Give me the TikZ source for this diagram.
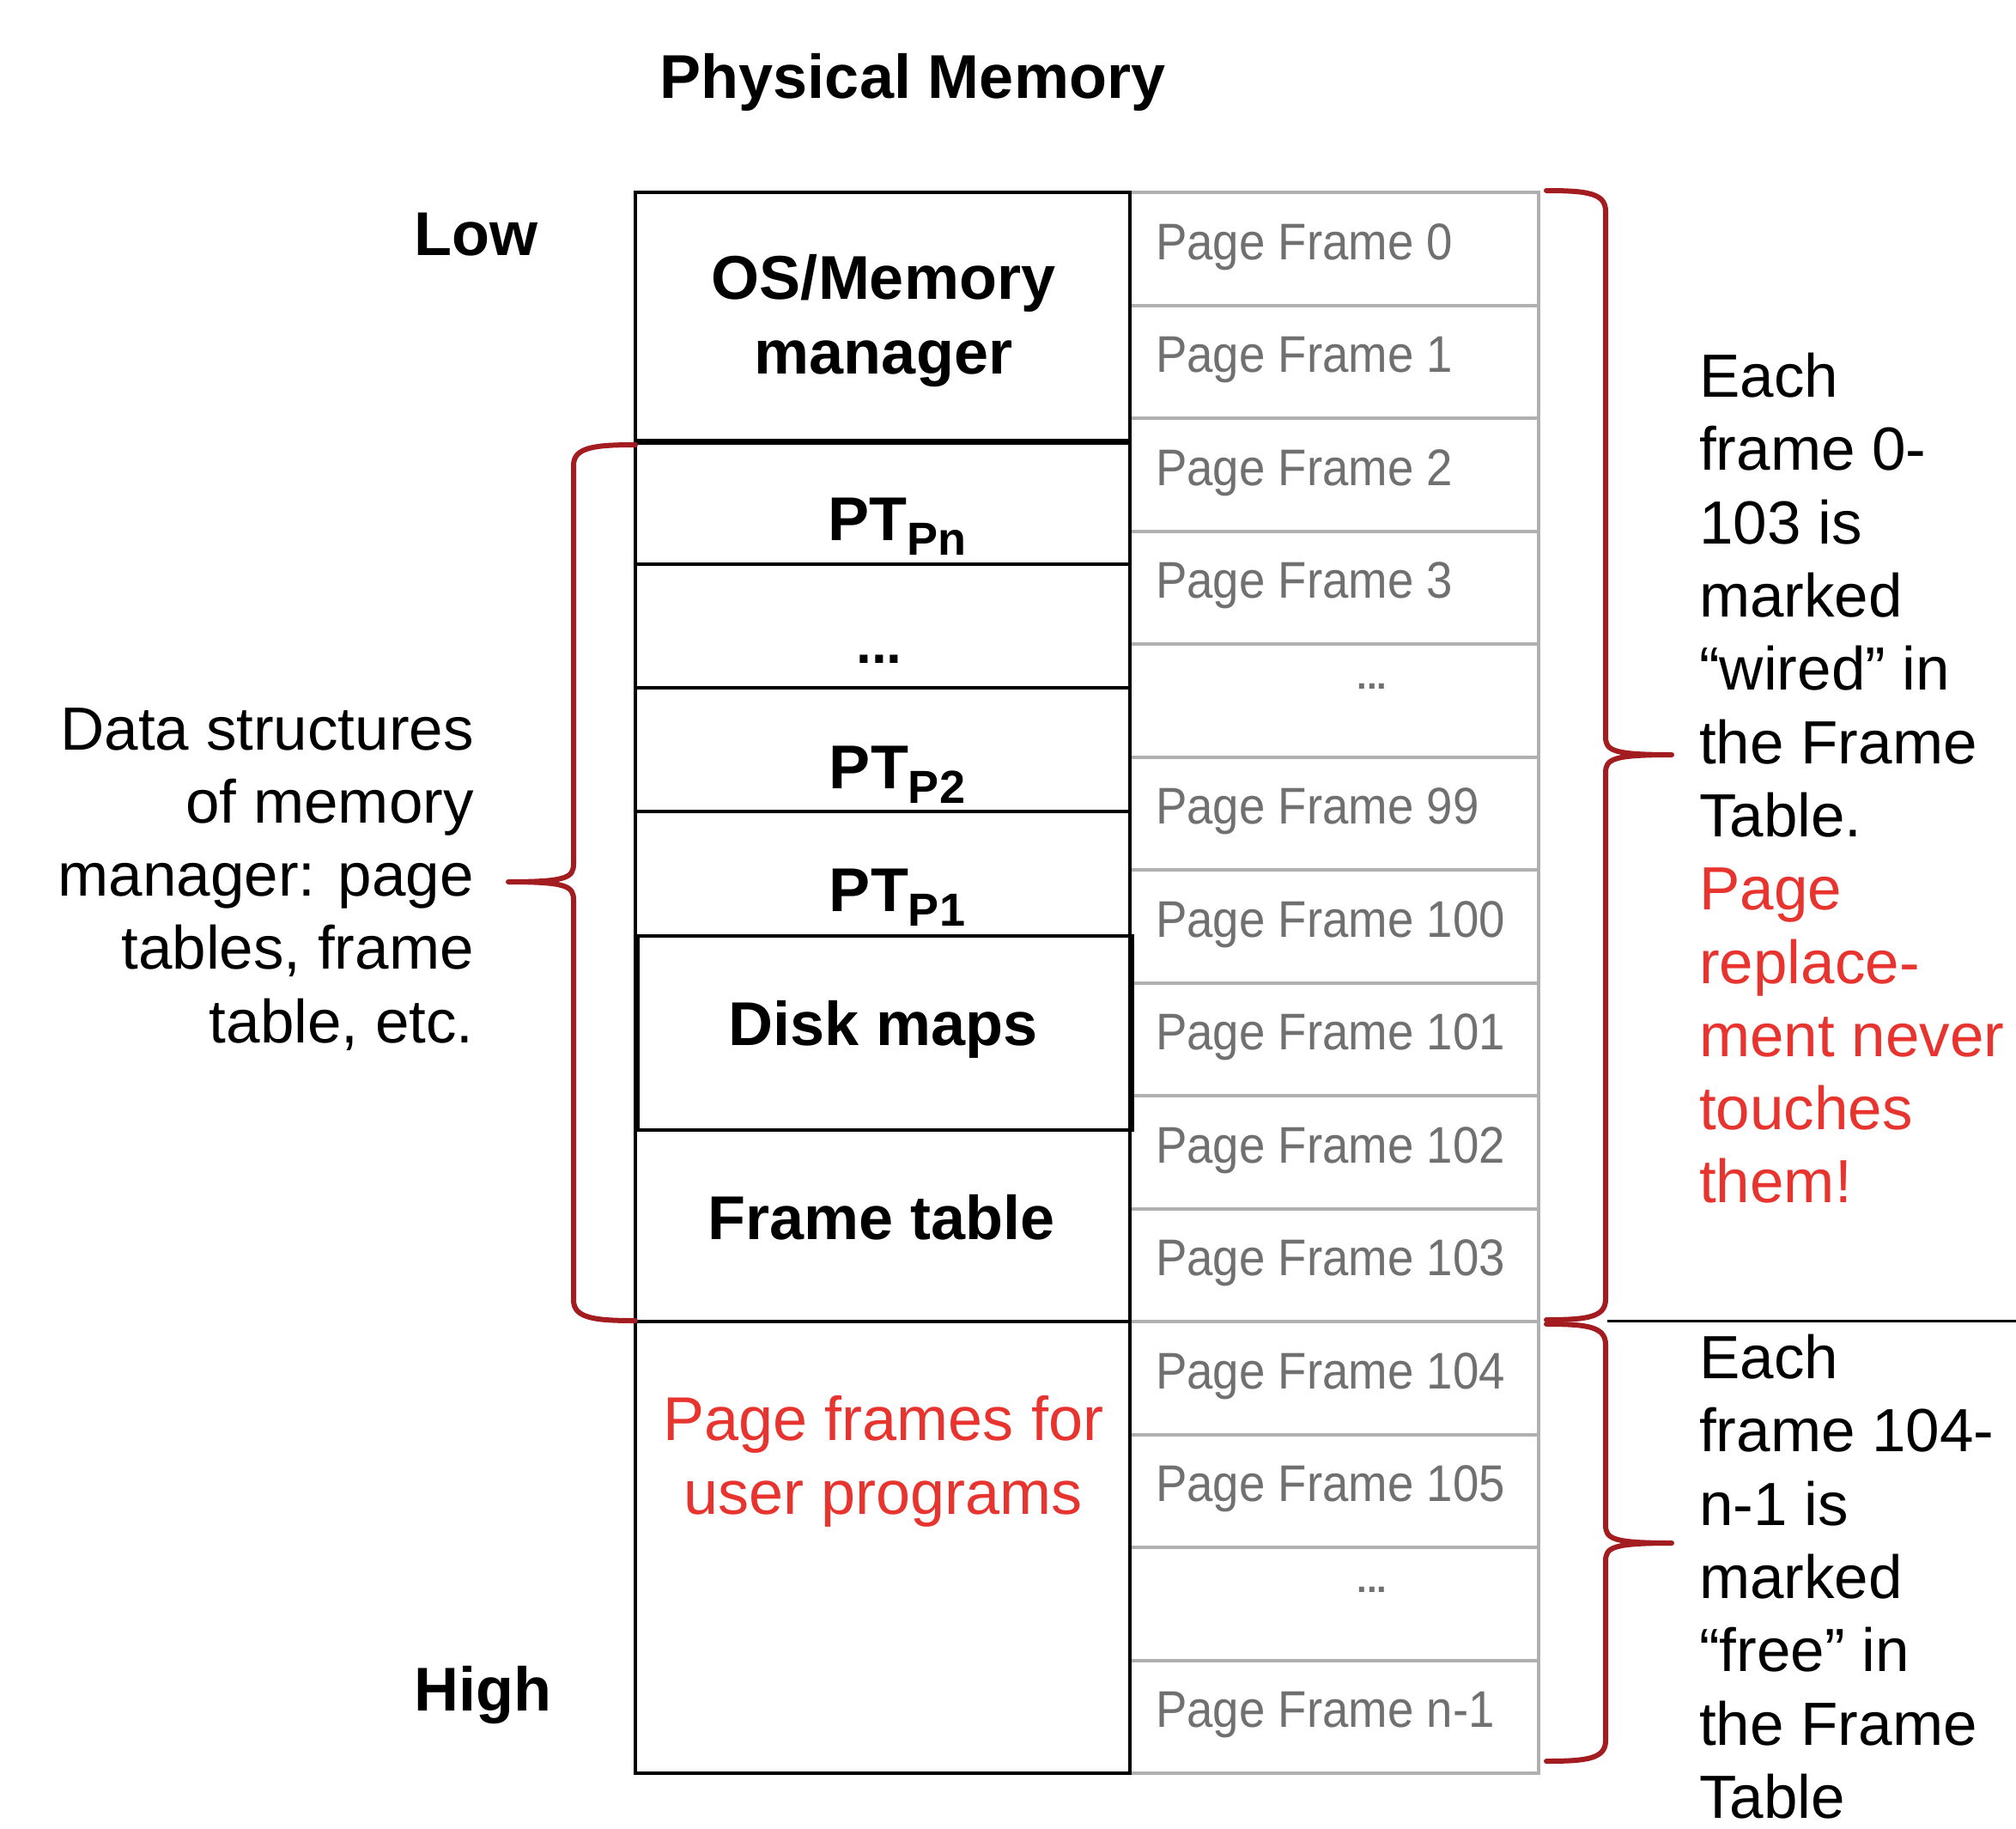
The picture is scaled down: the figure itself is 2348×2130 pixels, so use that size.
\documentclass[tikz,border=0pt]{standalone}
\usepackage{fontspec}
\setmainfont{Liberation Sans}
\newfontfamily\pffont[FakeStretch=0.91]{Liberation Sans}
\definecolor{bracered}{RGB}{163,28,32}
\definecolor{txtred}{RGB}{231,52,47}
\definecolor{gridgray}{RGB}{176,176,176}
\definecolor{pfgray}{RGB}{112,112,112}
\begin{document}
\begin{tikzpicture}[x=1pt,y=-1pt,
  big/.style={font=\fontsize{72}{87}\selectfont\bfseries, inner sep=0pt, align=center},
  body/.style={font=\fontsize{71}{85.3}\selectfont, inner sep=0pt},
  pf/.style={font=\pffont\fontsize{60}{60}\selectfont, text=pfgray, inner sep=0pt, anchor=base west},
  pfdots/.style={font=\fontsize{42}{42}\selectfont\bfseries, text=pfgray, inner sep=0pt, anchor=base},
  blackline/.style={line width=4pt},
  grayline/.style={draw=gridgray, line width=4pt},
  brace/.style={draw=bracered, line width=6pt, line cap=round, line join=round}
]
\useasboundingbox[fill=white] (0,0) rectangle (2348,2130);

% title and Low / High
\node[big, anchor=base] (title) at (1063,115) {Physical Memory};
\node[big, anchor=base west] (low) at (482,297) {Low};
\node[big, anchor=base west] (high) at (482,1992) {High};

% right column grid (page frames)
\foreach \k in {0,...,14} {
  \draw[grayline] (1316,{224+131.5*\k}) -- (1792,{224+131.5*\k});
}
\draw[grayline] (1792,222) -- (1792,2067);

\foreach \k/\t in {0/Page Frame 0,1/Page Frame 1,2/Page Frame 2,3/Page Frame 3,
  5/Page Frame 99,6/Page Frame 100,7/Page Frame 101,8/Page Frame 102,
  9/Page Frame 103,10/Page Frame 104,11/Page Frame 105,13/Page Frame n-1} {
  \node[pf] (pf\k) at (1346,{224+131.5*\k+78}) {\t};
}
\node[pfdots] (pfd4) at (1598,{224+131.5*4+52}) {...};
\node[pfdots] (pfd12) at (1598,{224+131.5*12+52}) {...};

% left column (memory regions)
\draw[blackline] (740,224) rectangle (1316,2065);
\draw[line width=7pt] (740,514) -- (1316,514);
\draw[blackline] (740,657) -- (1316,657);
\draw[blackline] (740,801) -- (1316,801);
\draw[blackline] (740,945) -- (1316,945);
\draw[blackline] (740,1539) -- (1316,1539);
\draw[blackline] (743,1090) rectangle (1319,1316);

\node[big, anchor=north] (os) at (1029,296) {OS/Memory\\manager};
\node[big, anchor=base] (ptn) at (1045,629) {PT\raisebox{-17pt}{\fontsize{54}{54}\selectfont Pn}};
\node[font=\fontsize{64}{64}\selectfont\bfseries, inner sep=0pt, anchor=base] (ldots) at (1024,772) {...};
\node[big, anchor=base] (pt2) at (1045,918) {PT\raisebox{-17pt}{\fontsize{54}{54}\selectfont P2}};
\node[big, anchor=base] (pt1) at (1045,1061) {PT\raisebox{-17pt}{\fontsize{54}{54}\selectfont P1}};
\node[big, anchor=base] (disk) at (1029,1217) {Disk maps};
\node[big, anchor=base] (ft) at (1027,1443) {Frame table};
\node[font=\fontsize{72}{86}\selectfont, text=txtred, inner sep=0pt, align=center, anchor=north] (user) at (1029,1625) {Page frames for\\user programs};

% left brace and text
\coordinate (lbt) at (740,518);
\coordinate (lbb) at (740,1538);
\coordinate (lbtip) at (592,1027);
\draw[brace] (lbt) .. controls (692,518) and (668,521) .. (668,542)
  -- (668,1006) .. controls (668,1022) and (660,1027) .. (lbtip)
  .. controls (660,1027) and (668,1032) .. (668,1048)
  -- (668,1514) .. controls (668,1535) and (692,1538) .. (lbb);
\node[body, align=right, anchor=north east] (ds) at (552,824)
  {Data structures\\of memory\\manager: page\\tables, frame\\table, etc.};

% right braces
\coordinate (rat) at (1801,222);
\coordinate (rab) at (1801,1537);
\coordinate (ratip) at (1947,879);
\draw[brace] (rat) .. controls (1849,222) and (1870,225) .. (1870,246)
  -- (1870,858) .. controls (1870,874) and (1878,879) .. (ratip)
  .. controls (1878,879) and (1870,884) .. (1870,900)
  -- (1870,1513) .. controls (1870,1534) and (1849,1537) .. (rab);
\coordinate (rbt) at (1801,1542);
\coordinate (rbb) at (1801,2051);
\coordinate (rbtip) at (1947,1797);
\draw[brace] (rbt) .. controls (1849,1542) and (1870,1545) .. (1870,1566)
  -- (1870,1776) .. controls (1870,1792) and (1878,1797) .. (rbtip)
  .. controls (1878,1797) and (1870,1802) .. (1870,1818)
  -- (1870,2027) .. controls (1870,2048) and (1849,2051) .. (rbb);

\coordinate (sepL) at (1872,1538);
\coordinate (sepR) at (2348,1538);
\draw[line width=3pt] (sepL) -- (sepR);

\node[body, align=left, anchor=north west] (wired) at (1979,411)
  {Each\\frame 0-\\103 is\\marked\\“wired” in\\the Frame\\Table.\\\textcolor{txtred}{Page}\\\textcolor{txtred}{replace-}\\\textcolor{txtred}{ment never}\\\textcolor{txtred}{touches}\\\textcolor{txtred}{them!}};
\node[body, align=left, anchor=north west] (free) at (1979,1554)
  {Each\\frame 104-\\n-1 is\\marked\\“free” in\\the Frame\\Table};
\end{tikzpicture}
\end{document}
